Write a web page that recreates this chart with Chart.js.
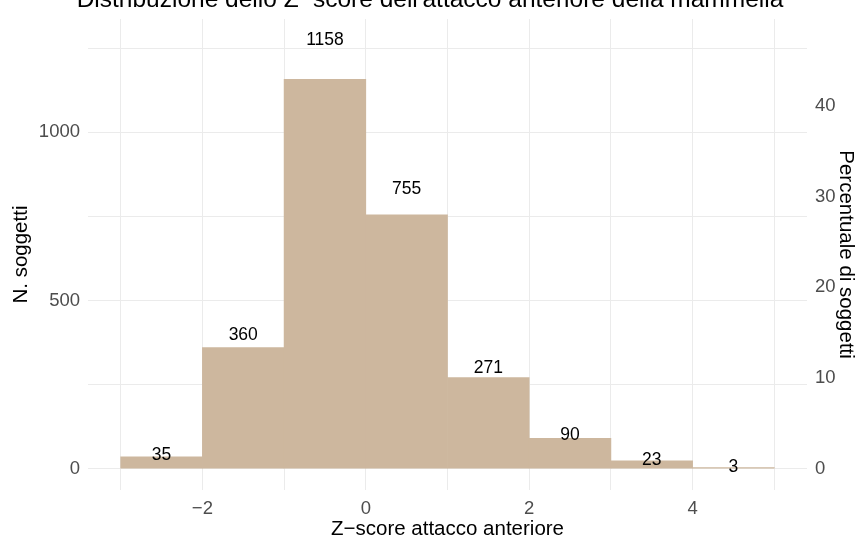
<!DOCTYPE html>
<html>
<head>
<meta charset="utf-8">
<script src="https://cdn.jsdelivr.net/npm/chart.js@4/dist/chart.umd.min.js"></script>
<style>
  body { margin: 0; background: #fff; }
</style>
</head>
<body>
<canvas id="grafico" width="860" height="540"></canvas>
<script>
const binCenters = [-2.5, -1.5, -0.5, 0.5, 1.5, 2.5, 3.5, 4.5];
const counts = [35, 360, 1158, 755, 271, 90, 23, 3];
const xTicks = [-3, -2, -1, 0, 1, 2, 3, 4, 5];
const xTickLabels = ['', '\u22122', '', '0', '', '2', '', '4', ''];
const yTicks = [0, 250, 500, 750, 1000, 1250];
const yTickLabels = ['0', '', '500', '', '1000', ''];
const pctTicks = [0, 10, 20, 30, 40];

const totale = counts.reduce((a, b) => a + b, 0);
const yMin = -63.7, yMax = 1337;
const colBarre = '#CDB79E';
const colGriglia = '#EBEBEB';
const font = 'Liberation Sans';

// numeri sopra le barre (y = n * 1.1 come nel grafico originale)
const etichette = {
    id: 'etichette',
    afterDatasetsDraw(chart) {
        const ctx = chart.ctx;
        const x = chart.scales.x, y = chart.scales.y;
        ctx.save();
        ctx.font = '17.5px "' + font + '"';
        ctx.fillStyle = '#000';
        ctx.textAlign = 'center';
        ctx.textBaseline = 'middle';
        counts.forEach((n, i) => {
            ctx.fillText(String(n), x.getPixelForValue(binCenters[i]), y.getPixelForValue(n * 1.1));
        });
        ctx.restore();
    }
};

const grafico = new Chart(document.getElementById('grafico').getContext('2d'), {
    type: 'bar',
    data: {
        datasets: [{
            data: binCenters.map((c, i) => ({x: c, y: counts[i]})),
            backgroundColor: colBarre,
            borderWidth: 0,
            barPercentage: 1,
            categoryPercentage: 1
        }]
    },
    options: {
        responsive: false,
        animation: false,
        devicePixelRatio: 1,
        layout: { padding: 0 },
        plugins: {
            legend: { display: false },
            tooltip: { enabled: false },
            title: {
                display: true,
                text: 'Distribuzione dello Z\u2212score dell\'attacco anteriore della mammella',
                color: '#000',
                font: { family: font, size: 24.5, weight: 'normal', lineHeight: 1.2 },
                padding: { top: -18.7, bottom: 4.3 }
            }
        },
        scales: {
            x: {
                type: 'linear',
                offset: false,
                min: -3.4,
                max: 5.4,
                afterBuildTicks: s => { s.ticks = xTicks.map(v => ({value: v})); },
                afterFit: s => { s.height = 50; },
                ticks: {
                    callback: (v, i) => xTickLabels[i],
                    color: '#4D4D4D',
                    font: { family: font, size: 18.5 },
                    padding: 8,
                    maxRotation: 0,
                    autoSkip: false
                },
                grid: { color: colGriglia, lineWidth: 1, drawTicks: false, offset: false },
                border: { display: false },
                title: {
                    display: true,
                    text: 'Z\u2212score attacco anteriore',
                    color: '#000',
                    font: { family: font, size: 20.5, lineHeight: 1 },
                    padding: { top: 0, bottom: 0 }
                }
            },
            y: {
                position: 'left',
                min: yMin,
                max: yMax,
                afterBuildTicks: s => { s.ticks = yTicks.map(v => ({value: v})); },
                afterFit: s => { s.width = 88; },
                ticks: {
                    callback: (v, i) => yTickLabels[i],
                    color: '#4D4D4D',
                    font: { family: font, size: 18.5 },
                    padding: 8
                },
                grid: { color: colGriglia, lineWidth: 1, drawTicks: false },
                border: { display: false },
                title: {
                    display: true,
                    text: 'N. soggetti',
                    color: '#000',
                    font: { family: font, size: 20.5, lineHeight: 1 },
                    padding: { top: 11, bottom: 0 }
                }
            },
            y2: {
                position: 'right',
                min: yMin / totale * 100,
                max: yMax / totale * 100,
                afterBuildTicks: s => { s.ticks = pctTicks.map(v => ({value: v})); },
                afterFit: s => { s.width = 53; },
                ticks: {
                    color: '#4D4D4D',
                    font: { family: font, size: 18.5 },
                    padding: 8
                },
                grid: { display: false, drawTicks: false },
                border: { display: false },
                title: {
                    display: true,
                    text: 'Percentuale di soggetti',
                    color: '#000',
                    font: { family: font, size: 20.5, lineHeight: 1 },
                    padding: { top: 4, bottom: 0 }
                }
            }
        }
    },
    plugins: [etichette]
});
</script>
</body>
</html>
